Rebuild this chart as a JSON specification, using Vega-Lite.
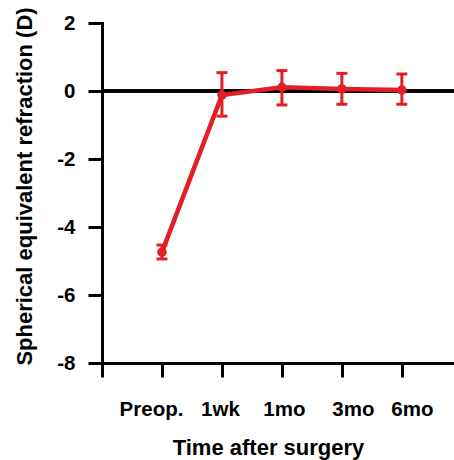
{
  "$schema": "https://vega.github.io/schema/vega-lite/v6.json",
  "width": 352,
  "height": 340,
  "autosize": "none",
  "padding": {"left": 102, "top": 23, "right": 0, "bottom": 97},
  "background": "white",
  "config": {
    "view": {"stroke": null},
    "font": "Liberation Sans",
    "axis": {
      "labelFont": "Liberation Sans",
      "titleFont": "Liberation Sans",
      "labelFontWeight": "bold",
      "titleFontWeight": "bold",
      "labelColor": "black",
      "titleColor": "black",
      "domainColor": "black",
      "tickColor": "black",
      "domainWidth": 3,
      "tickWidth": 3,
      "tickSize": 14,
      "grid": false,
      "domainCap": "square"
    }
  },
  "data": {
    "values": [
      {"order": 1, "time": "Preop.", "mean": -4.74, "lo": -4.94, "hi": -4.53},
      {"order": 2, "time": "1wk", "mean": -0.12, "lo": -0.74, "hi": 0.54},
      {"order": 3, "time": "1mo", "mean": 0.11, "lo": -0.41, "hi": 0.60},
      {"order": 4, "time": "3mo", "mean": 0.06, "lo": -0.39, "hi": 0.52},
      {"order": 5, "time": "6mo", "mean": 0.03, "lo": -0.39, "hi": 0.50}
    ]
  },
  "encoding": {
    "x": {
      "field": "order",
      "type": "quantitative",
      "scale": {"domain": [0, 5.87], "nice": false, "zero": false},
      "axis": {
        "values": [0, 1, 2, 3, 4, 5],
        "labelExpr": "['', 'Preop.', '1wk', '1mo', '3mo', '6mo'][datum.value]",
        "labelFontSize": 20.5,
        "labelPadding": 22,
        "labelFlush": false,
        "labelOverlap": false,
        "labelOffset": {"expr": "[0, -11, -2, 2, 11, 10][datum.value]"},
        "title": "Time after surgery",
        "titleFontSize": 22,
        "titlePadding": 18,
        "titleX": 166
      }
    }
  },
  "layer": [
    {
      "mark": {"type": "rule", "color": "black", "strokeWidth": 3},
      "encoding": {"y": {"datum": 0, "type": "quantitative"}, "x": null}
    },
    {
      "mark": {"type": "errorbar", "color": "#e31e24", "opacity": 1, "thickness": 3, "ticks": {"size": 11, "thickness": 3, "color": "#e31e24", "opacity": 1}, "rule": {"opacity": 1}},
      "encoding": {
        "y": {
          "field": "lo",
          "type": "quantitative",
          "scale": {"domain": [-8, 2], "nice": false},
          "axis": {
            "values": [-8, -6, -4, -2, 0, 2],
            "labelExpr": "datum.value < 0 ? '-' + abs(datum.value) : '' + datum.value",
            "labelFontSize": 20.5,
            "labelPadding": 13,
            "title": "Spherical equivalent refraction (D)",
            "titleFontSize": 22,
            "titlePadding": 20,
            "titleY": 163
          }
        },
        "y2": {"field": "hi"}
      }
    },
    {
      "mark": {"type": "line", "color": "#e31e24", "strokeWidth": 4.5},
      "encoding": {"y": {"field": "mean", "type": "quantitative"}}
    },
    {
      "mark": {"type": "point", "filled": true, "opacity": 1, "color": "#e31e24", "size": 90},
      "encoding": {"y": {"field": "mean", "type": "quantitative"}}
    }
  ]
}
